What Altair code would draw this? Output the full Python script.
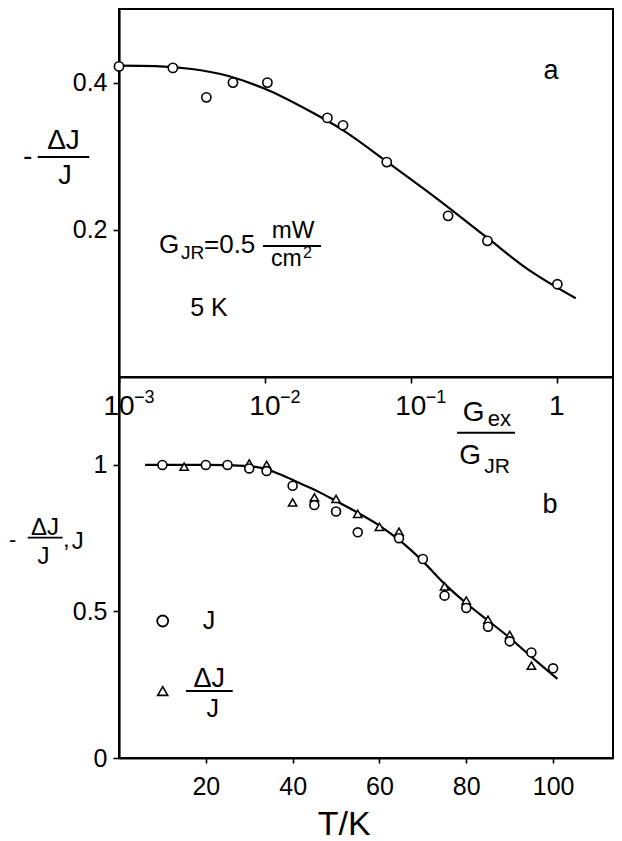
import altair as alt
import pandas as pd

FONT = "Liberation Sans"

# ---------------- panel a data (log x) ----------------
a_ratio = [0.001, 0.00234, 0.00397, 0.00604, 0.0104, 0.0268, 0.0343, 0.0684, 0.18, 0.335, 1.01]
a_val = [0.422, 0.420, 0.380, 0.400, 0.400, 0.352, 0.342, 0.292, 0.219, 0.185, 0.126]
a_fit_ratio = [0.001, 0.00178, 0.00316, 0.00562, 0.01, 0.0195, 0.0348, 0.068, 0.123, 0.208, 0.352, 0.597, 1.35]
a_fit_val = [0.423, 0.4225, 0.4185, 0.409, 0.3915, 0.363, 0.3345, 0.293, 0.2555, 0.221, 0.1855, 0.150, 0.107]
a_ticks = [0.001, 0.01, 0.1, 1]
a_tick_base = ["10", "10", "10", "1"]
a_tick_exp = ["\u22123", "\u22122", "\u22121", ""]

# ---------------- panel b data ----------------
b_T_J = [10, 20, 25, 30, 34, 40, 45, 50, 55, 64.5, 70, 75, 80, 85, 90, 95, 100]
b_J = [1.0, 1.0, 1.0, 0.988, 0.979, 0.929, 0.863, 0.841, 0.770, 0.750, 0.679, 0.554, 0.512, 0.448, 0.398, 0.360, 0.306]
b_T_dJ = [15, 30, 34, 40, 45, 50, 55, 60, 64.5, 75, 80, 85, 90, 95]
b_dJ = [0.994, 1.005, 1.0, 0.872, 0.889, 0.884, 0.833, 0.789, 0.772, 0.586, 0.537, 0.472, 0.420, 0.315]
b_fit_T = [6, 10, 20, 30, 34, 38, 42, 46, 50, 55, 60, 65, 70, 75, 80, 85, 90, 95, 101]
b_fit = [1.0, 1.0, 1.0, 0.996, 0.985, 0.962, 0.935, 0.908, 0.877, 0.837, 0.793, 0.738, 0.671, 0.594, 0.528, 0.469, 0.41, 0.345, 0.27]

W = 494
HA = 368
HB = 381

one = pd.DataFrame({"k": [0]})


def txt(s, x, y, size, align="center", baseline="alphabetic"):
    return alt.Chart(one).mark_text(
        text=s, fontSize=size, align=align, baseline=baseline, font=FONT, color="black"
    ).encode(x=alt.value(x), y=alt.value(y))


def bar(x1, x2, y, w=1.8):
    return alt.Chart(one).mark_rule(color="black", strokeWidth=w).encode(
        x=alt.value(x1), x2=alt.value(x2), y=alt.value(y)
    )


# ---------------- panel a ----------------
xa_scale = alt.Scale(type="log", domain=[0.001, 2.43], nice=False)
ya_scale = alt.Scale(domain=[0, 0.5], nice=False)

xa_axis = alt.Axis(values=a_ticks, labels=False, title=None, tickSize=6, grid=False)
ya_axis = alt.Axis(values=[0.2, 0.4], format=".1f", title=None, tickSize=6, labelPadding=6, grid=False)

df_a = pd.DataFrame({"r": a_ratio, "v": a_val})
df_afit = pd.DataFrame({"r": a_fit_ratio, "v": a_fit_val})
df_aticks = pd.DataFrame({"r": a_ticks, "base": a_tick_base, "exp": a_tick_exp})

a_line = alt.Chart(df_afit).mark_line(color="black", strokeWidth=2.2, interpolate="monotone").encode(
    x=alt.X("r:Q", scale=xa_scale, axis=xa_axis),
    y=alt.Y("v:Q", scale=ya_scale, axis=ya_axis),
)
a_pts = alt.Chart(df_a).mark_point(
    shape="circle", size=85, filled=True, fill="white", stroke="black", strokeWidth=1.6, opacity=1
).encode(
    x=alt.X("r:Q", scale=xa_scale),
    y=alt.Y("v:Q", scale=ya_scale),
)
a_tick_base_txt = alt.Chart(df_aticks).mark_text(
    fontSize=28, font=FONT, align="center", baseline="alphabetic", color="black"
).encode(x=alt.X("r:Q", scale=xa_scale), y=alt.value(406), text="base:N")
a_tick_exp_txt = alt.Chart(df_aticks).mark_text(
    fontSize=18, font=FONT, align="left", baseline="alphabetic", color="black", dx=15
).encode(x=alt.X("r:Q", scale=xa_scale), y=alt.value(394), text="exp:N")

panel_a = alt.layer(
    a_line,
    a_pts,
    a_tick_base_txt,
    a_tick_exp_txt,
    txt("a", 432, 70, 27),
    # G_JR = 0.5 mW/cm^2
    txt("G", 40, 243.7, 26, align="left"),
    txt("JR", 62, 250, 19, align="left"),
    txt("=0.5", 85, 243.7, 26, align="left"),
    txt("mW", 174, 228.7, 24),
    bar(144, 202, 237),
    txt("cm", 152, 257, 23, align="left"),
    txt("2", 184, 249, 16, align="left"),
    txt("5 K", 90, 307, 25),
    # x title Gex / GJR
    txt("G", 343.7, 412, 28, align="left"),
    txt("ex", 368.7, 417, 22, align="left"),
    bar(338, 396, 423.7, 2),
    txt("G", 340.3, 455.3, 28, align="left"),
    txt("JR", 365.3, 463.7, 21, align="left"),
    # y title  - dJ / J
    txt("-", -91.3, 148, 28, baseline="middle"),
    txt("\u0394J", -55.5, 140.3, 28),
    bar(-81.3, -29.7, 148, 2),
    txt("J", -54, 175.3, 27),
).properties(width=W, height=HA)

# ---------------- panel b ----------------
xb_scale = alt.Scale(domain=[0, 113.8], nice=False)
yb_scale = alt.Scale(domain=[0, 1.3], nice=False)
xb_axis = alt.Axis(values=[20, 40, 60, 80, 100], title=None, tickSize=5, labelPadding=11, grid=False)
yb_axis = alt.Axis(values=[0, 0.5, 1], format=".1~f", title=None, tickSize=6, labelPadding=6, grid=False)

df_bJ = pd.DataFrame({"T": b_T_J, "v": b_J})
df_bdJ = pd.DataFrame({"T": b_T_dJ, "v": b_dJ})
df_bfit = pd.DataFrame({"T": b_fit_T, "v": b_fit})

b_line = alt.Chart(df_bfit).mark_line(color="black", strokeWidth=2.2, interpolate="monotone").encode(
    x=alt.X("T:Q", scale=xb_scale, axis=xb_axis),
    y=alt.Y("v:Q", scale=yb_scale, axis=yb_axis),
)
b_tri = alt.Chart(df_bdJ).mark_point(
    shape="triangle-up", size=70, filled=True, fill="white", stroke="black", strokeWidth=1.5, opacity=1
).encode(x=alt.X("T:Q", scale=xb_scale), y=alt.Y("v:Q", scale=yb_scale))
b_circ = alt.Chart(df_bJ).mark_point(
    shape="circle", size=80, filled=True, fill="white", stroke="black", strokeWidth=1.6, opacity=1
).encode(x=alt.X("T:Q", scale=xb_scale), y=alt.Y("v:Q", scale=yb_scale))

leg_circ = alt.Chart(one).mark_point(
    shape="circle", size=120, filled=True, fill="white", stroke="black", strokeWidth=1.8, opacity=1
).encode(x=alt.value(43.7), y=alt.value(244))
leg_tri = alt.Chart(one).mark_point(
    shape="triangle-up", size=100, filled=True, fill="white", stroke="black", strokeWidth=1.6, opacity=1
).encode(x=alt.value(43.7), y=alt.value(314))

panel_b = alt.layer(
    b_line,
    b_tri,
    b_circ,
    leg_circ,
    leg_tri,
    txt("b", 431, 135.7, 27),
    txt("J", 90, 252.3, 25),
    txt("\u0394J", 90.3, 310, 27),
    bar(67, 113.7, 314, 2),
    txt("J", 93.7, 340, 25),
    # y title  - dJ/J , J
    txt("-", -106.3, 163, 22, baseline="middle"),
    txt("\u0394J", -74, 158, 24),
    bar(-91.3, -56.3, 160.7, 1.8),
    txt("J", -75.5, 187, 24),
    txt(",", -56, 170, 24, align="left"),
    txt("J", -41.3, 172.3, 24),
    # x title
    txt("T/K", 225.3, 458, 34),
).properties(width=W, height=HB)

chart = alt.vconcat(
    panel_a, panel_b, spacing=0, bounds="flush",
    padding={"left": 0, "top": 0, "right": 0, "bottom": 0},
).configure_view(
    stroke="black", strokeWidth=2
).configure_axis(
    domainColor="black", domainWidth=2.2, tickColor="black", tickWidth=1.6,
    labelColor="black", labelFont=FONT, labelFontSize=25, grid=False
)

chart.save("out.html", embed_options={"renderer": "svg", "actions": False})
